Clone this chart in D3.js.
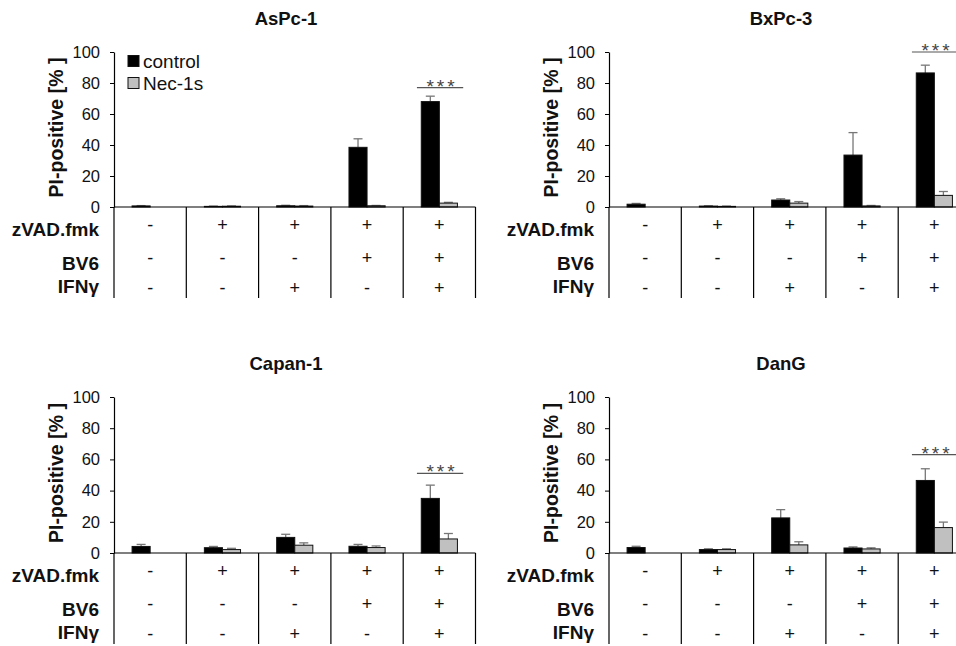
<!DOCTYPE html>
<html>
<head>
<meta charset="utf-8">
<script src="https://cdn.jsdelivr.net/npm/d3@7"></script>
<style>
  body { margin: 0; background: #fff; }
  svg { display: block; font-family: Arial, "Liberation Sans", sans-serif; }
</style>
</head>
<body>
<div id="chart"></div>
<script>
// conditions (5 per panel) and the treatment table
let conditions = ["c1", "c2", "c3", "c4", "c5"];
let rowLabels = ["zVAD.fmk", "BV6", "IFNγ"];
let zvadRow = ["-", "+", "+", "+", "+"];
let bv6Row = ["-", "-", "-", "+", "+"];
let ifngRow = ["-", "-", "+", "-", "+"];
let seriesNames = ["control", "Nec-1s"];

let titles = ["AsPc-1", "BxPc-3", "Capan-1", "DanG"];

let controlValues = [
    [0.7, 0.4, 0.8, 38.5, 68],
    [1.8, 0.6, 4.5, 33.5, 86.5],
    [4.2, 3.4, 10, 4.3, 35],
    [3.5, 2.2, 22.5, 3.2, 46.5]
];
let controlErrors = [
    [0.2, 0.2, 0.3, 5.5, 3.5],
    [0.5, 0.2, 0.8, 14.5, 5],
    [1.3, 0.8, 2, 1.2, 8.5],
    [0.8, 0.5, 5.3, 0.7, 7.5]
];
let necValues = [
    [0, 0.5, 0.6, 0.8, 2.5],
    [0, 0.4, 2.5, 0.7, 7.5],
    [0, 2.2, 5, 3.5, 9],
    [0, 2.2, 5.2, 2.6, 16.3]
];
let necErrors = [
    [0, 0.2, 0.3, 0.2, 0.5],
    [0, 0.2, 1, 0.3, 2.5],
    [0, 0.8, 1.5, 1, 3.5],
    [0, 0.5, 2, 0.7, 3.5]
];
// height of the *** bracket (in %)
let sigLevel = [77, 100, 51, 63];
let yTicks = [0, 20, 40, 60, 80, 100];

let svgWidth = 956;
let svgHeight = 646;
let catWidth = 72.3;

let svg = d3.select("#chart")
    .append("svg")
    .attr("width", svgWidth)
    .attr("height", svgHeight);

svg.append("rect").attr("width", svgWidth).attr("height", svgHeight).attr("fill", "#fff");

let panels = [
    { ax: 114, zero: 207, top: 52 },
    { ax: 609, zero: 207, top: 52 },
    { ax: 114, zero: 553, top: 397 },
    { ax: 609, zero: 553, top: 397 }
];

panels.forEach(function (p, i) {
    let g = svg.append("g");

    let x = d3.scaleBand()
        .domain(conditions)
        .range([p.ax, p.ax + catWidth * conditions.length]);

    let xSub = d3.scaleBand()
        .domain(seriesNames)
        .range([x.bandwidth() * 0.25, x.bandwidth() * 0.75]);

    let y = d3.scaleLinear()
        .domain([0, 100])
        .range([p.zero, p.top]);

    // title
    g.append("text")
        .attr("x", p.ax + 172)
        .attr("y", p.top - 27)
        .attr("text-anchor", "middle")
        .attr("font-size", "18.5px")
        .attr("font-weight", "bold")
        .attr("fill", "#111")
        .text(titles[i]);

    // y axis
    let leftAxis = d3.axisLeft(y).tickValues(yTicks).tickSize(4).tickSizeOuter(0).tickPadding(10);
    let ag = g.append("g")
        .attr("transform", `translate(${p.ax}, 0)`)
        .call(leftAxis);
    ag.select(".domain").attr("stroke", "#000").attr("stroke-width", 1.2);
    ag.selectAll(".tick line").attr("stroke", "#000");
    ag.selectAll(".tick text")
        .attr("font-size", "16.5px")
        .attr("font-family", "Arial, 'Liberation Sans', sans-serif")
        .attr("fill", "#111");

    g.append("text")
        .attr("transform", "rotate(-90)")
        .attr("x", -(p.zero + p.top) / 2 + 2)
        .attr("y", p.ax - 51)
        .attr("text-anchor", "middle")
        .attr("font-size", "19.5px")
        .attr("font-weight", "bold")
        .attr("fill", "#111")
        .text("PI-positive [% ]");

    // bars
    let rows = conditions.map(function (c, j) {
        return [
            { cat: c, s: "control", v: controlValues[i][j], e: controlErrors[i][j] },
            { cat: c, s: "Nec-1s", v: necValues[i][j], e: necErrors[i][j] }
        ];
    }).flat();

    // error bars (up only)
    let eb = g.selectAll(".err").data(rows.filter(d => d.e > 0)).enter().append("g");
    eb.append("line")
        .attr("x1", d => x(d.cat) + xSub(d.s) + xSub.bandwidth() / 2)
        .attr("x2", d => x(d.cat) + xSub(d.s) + xSub.bandwidth() / 2)
        .attr("y1", d => y(d.v))
        .attr("y2", d => y(d.v + d.e))
        .attr("stroke", "#777")
        .attr("stroke-width", 1.3);
    eb.append("line")
        .attr("x1", d => x(d.cat) + xSub(d.s) + xSub.bandwidth() / 2 - 4.5)
        .attr("x2", d => x(d.cat) + xSub(d.s) + xSub.bandwidth() / 2 + 4.5)
        .attr("y1", d => y(d.v + d.e))
        .attr("y2", d => y(d.v + d.e))
        .attr("stroke", "#777")
        .attr("stroke-width", 1.3);

    g.selectAll(".bar").data(rows.filter(d => d.v > 0)).enter().append("rect")
        .attr("x", d => x(d.cat) + xSub(d.s))
        .attr("y", d => y(d.v))
        .attr("width", xSub.bandwidth())
        .attr("height", d => y(0) - y(d.v))
        .attr("fill", d => d.s === "control" ? "#000" : "#c0c0c0")
        .attr("stroke", "#111")
        .attr("stroke-width", 1);

    // x axis line and table grid
    let xEnd = x.range()[1];
    g.append("line")
        .attr("x1", p.ax).attr("x2", xEnd)
        .attr("y1", p.zero).attr("y2", p.zero)
        .attr("stroke", "#000").attr("stroke-width", 1.2);

    let edges = conditions.map(c => x(c)).concat([xEnd]);
    g.selectAll(".sep").data(edges).enter().append("line")
        .attr("x1", d => d).attr("x2", d => d)
        .attr("y1", p.zero).attr("y2", p.zero + 91)
        .attr("stroke", "#000").attr("stroke-width", 1.2);

    // row labels and +/- signs
    let rowOffsets = [29, 63, 86];
    let signOffsets = [24, 57, 87];
    let rowData = [zvadRow, bv6Row, ifngRow];
    rowLabels.forEach(function (lab, r) {
        g.append("text")
            .attr("x", p.ax - 15)
            .attr("y", p.zero + rowOffsets[r])
            .attr("text-anchor", "end")
            .attr("font-size", "19px")
            .attr("font-weight", "bold")
            .attr("fill", "#111")
            .text(lab);
        g.selectAll(null).data(conditions).enter().append("text")
            .attr("x", c => x(c) + x.bandwidth() / 2)
            .attr("y", p.zero + signOffsets[r])
            .attr("text-anchor", "middle")
            .attr("font-size", "18px")
            .attr("fill", "#111")
            .text((c, j) => rowData[r][j]);
    });

    // significance bracket
    let lastCat = conditions[conditions.length - 1];
    let sx1 = x(lastCat) + x.bandwidth() * 0.19;
    let sx2 = x(lastCat) + x.bandwidth() * 0.83;
    g.append("line")
        .attr("x1", sx1).attr("x2", sx2)
        .attr("y1", y(sigLevel[i])).attr("y2", y(sigLevel[i]))
        .attr("stroke", "#555").attr("stroke-width", 1.2);
    g.append("text")
        .attr("x", (sx1 + sx2) / 2 + 2)
        .attr("y", y(sigLevel[i]) + 5)
        .attr("text-anchor", "middle")
        .attr("font-size", "19px")
        .attr("letter-spacing", "3px")
        .attr("fill", "#444")
        .text("***");

    // legend only in first panel
    if (i === 0) {
        seriesNames.forEach(function (s, k) {
            let ly = 61 + k * 22;
            g.append("rect")
                .attr("x", p.ax + 14).attr("y", ly - 5.5)
                .attr("width", 11).attr("height", 11)
                .attr("fill", k === 0 ? "#000" : "#c0c0c0")
                .attr("stroke", "#111");
            g.append("text")
                .attr("x", p.ax + 29).attr("y", ly + 6.5)
                .attr("font-size", "19px")
                .attr("fill", "#111")
                .text(s);
        });
    }
});
</script>
</body>
</html>
